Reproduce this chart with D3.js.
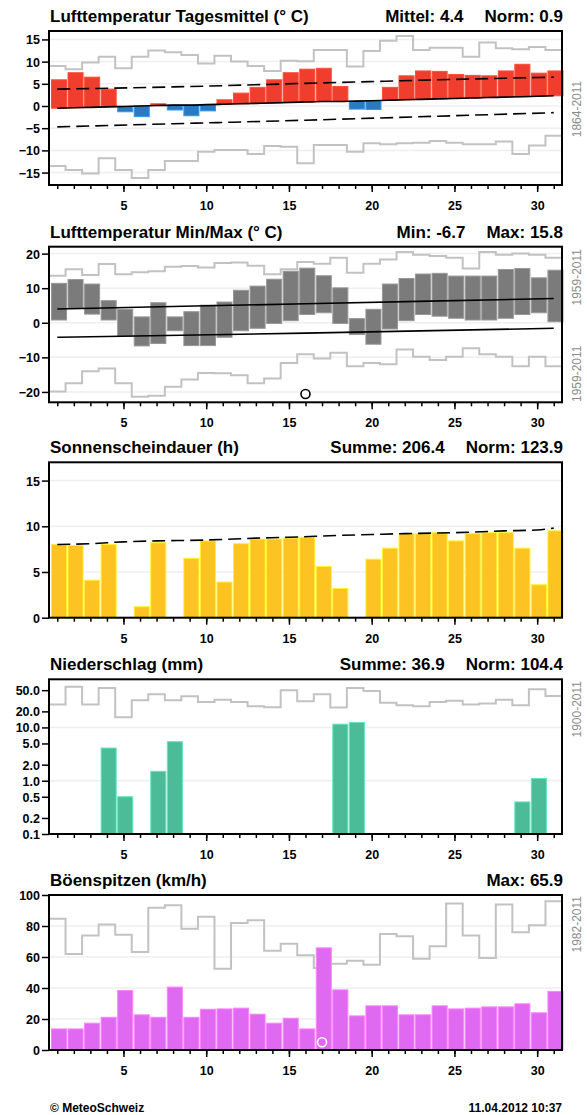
<!DOCTYPE html>
<html>
<head>
<meta charset="utf-8">
<script src="https://cdn.jsdelivr.net/npm/d3@7.9.0/dist/d3.min.js"></script>
<style>
  body { margin: 0; background: #fff; }
  svg { display: block; font-family: "Liberation Sans", Arial, sans-serif; }
  .title { font-weight: bold; font-size: 17px; }
  .tick text { font-family: "Liberation Sans", Arial, sans-serif; font-weight: bold; font-size: 12.5px; fill: #000; }
  .tick line { stroke: #000; stroke-width: 1.5; }
  .side { font-size: 12px; fill: #8c8c8c; }
  .foot { font-size: 12px; font-weight: bold; }
</style>
</head>
<body>
<svg id="chart" width="587" height="1115"></svg>
<script>
const days = [1,2,3,4,5,6,7,8,9,10,11,12,13,14,15,16,17,18,19,20,21,22,23,24,25,26,27,28,29,30,31];
const majorDays = [5, 10, 15, 20, 25, 30];

// Lufttemperatur Tagesmittel
const tMean = [5.9,7.5,6.5,3.8,-1.3,-2.4,0.5,-0.9,-2.2,-1.1,1.4,2.9,4.2,5.9,7.5,8.3,8.5,4.4,-0.7,-0.8,4.2,6.8,7.9,7.8,7.1,6.9,6.8,7.9,9.4,7.4,7.9];
const tMeanNorm = [-0.5,-0.4,-0.3,-0.2,-0.1,0.0,0.1,0.2,0.2,0.3,0.4,0.5,0.6,0.7,0.8,0.9,1.0,1.0,1.1,1.2,1.3,1.4,1.5,1.6,1.7,1.8,1.9,2.0,2.1,2.2,2.3];
const normDays = [1, 8, 16, 24, 31];
const tMeanHi = [3.8, 4.3, 5.1, 5.9, 6.5];
const tMeanLo = [-4.7, -4.0, -3.2, -2.3, -1.5];
const tMeanRecMax = [9.0,8.3,9.8,11.1,8.5,11.1,12.5,12.1,11.5,9.6,11.3,10.0,9.0,7.9,10.2,10.1,12.6,12.6,8.9,12.4,14.7,15.8,12.6,13.1,13.1,11.1,14.3,13.0,12.8,13.3,12.6];
const tMeanRecMin = [-13.5,-14.4,-15.2,-11.8,-14.4,-16.2,-14.4,-12.4,-12.4,-10.3,-9.9,-9.9,-10.8,-9.0,-9.2,-12.9,-8.8,-8.8,-10.3,-8.4,-8.6,-8.4,-8.3,-7.9,-8.3,-8.6,-8.6,-8.0,-10.8,-8.9,-6.7];

// Lufttemperatur Min/Max
const tMax = [11.4,12.5,11.2,6.4,3.9,1.7,5.8,1.7,3.2,5.1,6.0,9.4,10.6,12.6,14.9,15.8,13.6,10.1,1.2,3.9,11.2,12.8,14.1,14.3,13.5,13.5,13.5,15.4,15.7,13.0,15.2];
const tMin = [0.8,4.1,2.5,0.8,-3.9,-6.7,-6.0,-2.3,-6.6,-6.6,-4.2,-2.3,-1.6,-0.2,0.6,2.4,2.9,-0.2,-3.4,-6.2,-1.8,0.6,2.4,1.9,1.3,0.8,0.8,1.3,2.4,2.9,0.3];
const tMaxNorm = [4.0, 5.5, 7.0];
const tMinNorm = [-4.2, -3.0, -1.6];
const mmNormDays = [1, 16, 31];
const tMaxRec = [13.6,15.5,13.8,17.0,14.0,14.6,14.9,16.2,16.4,16.0,17.3,17.4,16.5,14.0,15.5,17.6,17.1,18.8,14.5,17.1,18.3,20.5,19.7,19.3,18.8,15.7,20.5,19.7,20.0,19.7,18.8];
const tMinRec = [-19.9,-17.5,-14.0,-13.2,-17.5,-21.4,-21.1,-18.5,-16.4,-14.5,-14.6,-15.2,-17.5,-16.1,-11.6,-9.1,-10.3,-8.7,-12.6,-11.6,-12.0,-7.7,-9.8,-10.8,-9.8,-7.4,-9.1,-9.8,-12.6,-9.8,-12.6];
const tMinMarker = [{ day: 16, value: -20.6 }];

// Sonnenscheindauer
const sun = [8.0,7.9,4.1,8.0,0,1.2,8.2,0,6.5,8.4,3.9,8.1,8.6,8.6,8.7,8.8,5.6,3.2,0,6.4,7.6,9.2,9.2,9.3,8.4,9.2,9.3,9.3,7.6,3.6,9.5];
const sunMaxDays = [1, 3, 5, 7, 10, 13, 15, 18, 20, 22, 25, 28, 30, 31];
const sunMax = [8.0, 8.1, 8.3, 8.4, 8.5, 8.7, 8.8, 9.0, 9.1, 9.2, 9.3, 9.5, 9.6, 9.8];

// Niederschlag
const precip = [0,0,0,4.1,0.5,0,1.5,5.4,0,0,0,0,0,0,0,0,0,11.5,12.4,0,0,0,0,0,0,0,0,0,0.4,1.1,0];
const precipRec = [27,58,27,55,15.5,32.5,42,32.5,38.5,30,33,30,25,24,50,31,42,23.7,55,48,29,26,25,30,31.5,27,28,33,26,52,39];

// Böenspitzen
const gust = [13.6,13.6,17.3,21.1,38.4,22.7,21.1,40.6,21.1,26.3,26.5,27.0,23.1,17.3,20.5,13.6,65.9,38.8,22.0,28.5,28.5,22.7,22.7,28.5,26.5,27.0,27.8,27.8,29.8,24.0,37.8];
const gustRec = [84.6,61.9,73.8,80.9,74.4,63.2,91.7,93.4,78.3,85.9,52.4,82.0,83.7,64.1,68.6,61.1,52.9,55.7,57.6,55.0,74.9,73.4,58.9,66.9,94.5,73.8,59.3,93.9,75.9,80.5,96.0];
const gustMarker = [{ day: 17, value: 5 }];

const svg = d3.select('#chart');
const x = d3.scaleLinear().domain([0.5, 31.5]).range([49, 562]);
const barW = x(1.41) - x(0.5);

const panels = [
  { top: 31, bottom: 185, title: 'Lufttemperatur Tagesmittel (° C)', stats: ['Mittel: 4.4', 'Norm: 0.9'],
    y: d3.scaleLinear().domain([-17.8, 16.9]).range([185, 31]), ticks: [-15,-10,-5,0,5,10,15], grid: [-15,-10,-5,0,5,10,15], fmt: d3.format('d') },
  { top: 246.7, bottom: 402.3, title: 'Lufttemperatur Min/Max (° C)', stats: ['Min: -6.7', 'Max: 15.8'],
    y: d3.scaleLinear().domain([-23, 22]).range([402.3, 246.7]), ticks: [-20,-10,0,10,20], grid: [-20,-10,0,10,20], fmt: d3.format('d') },
  { top: 462.3, bottom: 617.7, title: 'Sonnenscheindauer (h)', stats: ['Summe: 206.4', 'Norm: 123.9'],
    y: d3.scaleLinear().domain([0, 17]).range([617.7, 462.3]), ticks: [0,5,10,15], grid: [5,10,15], fmt: d3.format('d') },
  { top: 679.3, bottom: 834, title: 'Niederschlag (mm)', stats: ['Summe: 36.9', 'Norm: 104.4'],
    y: d3.scaleLog().domain([0.1, 80]).range([834, 679.3]), ticks: [0.1,0.2,0.5,1,2,5,10,20,50], grid: [1,10], fmt: d3.format('.1f') },
  { top: 895, bottom: 1050, title: 'Böenspitzen (km/h)', stats: ['Max: 65.9'],
    y: d3.scaleLinear().domain([0, 100]).range([1050, 895]), ticks: [0,20,40,60,80,100], grid: [20,40,60,80], fmt: d3.format('d') }
];

function grid(p) {
  svg.append('g').selectAll('line').data(p.grid).join('line')
    .attr('x1', 49).attr('x2', 562)
    .attr('y1', d => p.y(d)).attr('y2', d => p.y(d))
    .attr('stroke', '#efefef').attr('stroke-width', 1.5);
}

function stepLine(p, values) {
  const pts = days.map((d, i) => [d - 0.5, values[i]]).concat([[31.5, values[values.length - 1]]]);
  svg.append('path')
    .attr('d', d3.line().x(d => x(d[0])).y(d => p.y(d[1])).curve(d3.curveStepAfter)(pts))
    .attr('fill', 'none').attr('stroke', '#c2c2c2').attr('stroke-width', 2);
}

function normLine(p, xs, values, dashed) {
  svg.append('path')
    .attr('d', d3.line().x(d => x(d[0])).y(d => p.y(d[1])).curve(d3.curveMonotoneX)(xs.map((d, i) => [d, values[i]])))
    .attr('fill', 'none').attr('stroke', '#000').attr('stroke-width', 1.6)
    .attr('stroke-dasharray', dashed ? '13,6' : null);
}

function bars(p, lo, hi, color) {
  svg.append('g').selectAll('rect').data(days.map((d, i) => ({ d, a: lo[i], b: hi[i] })).filter(r => r.a !== r.b)).join('rect')
    .attr('x', r => x(r.d - 0.35))
    .attr('width', barW)
    .attr('y', r => Math.min(p.y(r.a), p.y(r.b)))
    .attr('height', r => Math.abs(p.y(r.a) - p.y(r.b)))
    .attr('fill', r => typeof color === 'function' ? color(r) : color)
    .attr('stroke', r => d3.color(typeof color === 'function' ? color(r) : color).brighter(0.6))
    .attr('stroke-width', 1);
}

function axes(p) {
  const ay = svg.append('g').attr('transform', 'translate(49,0)')
    .call(d3.axisLeft(p.y).tickValues(p.ticks).tickFormat(p.fmt).tickSize(7).tickPadding(2));
  ay.select('.domain').remove();
  ay.selectAll('.tick text').attr('dy', '0.36em');

  const minor = svg.append('g').attr('transform', `translate(0,${p.bottom})`)
    .call(d3.axisBottom(x).tickValues(days).tickSize(4).tickFormat(''));
  minor.select('.domain').remove();
  const major = svg.append('g').attr('transform', `translate(0,${p.bottom})`)
    .call(d3.axisBottom(x).tickValues(majorDays).tickSize(7).tickPadding(9).tickFormat(d3.format('d')));
  major.select('.domain').remove();

  svg.append('rect')
    .attr('x', 49).attr('y', p.top).attr('width', 513).attr('height', p.bottom - p.top)
    .attr('fill', 'none').attr('stroke', '#000').attr('stroke-width', 2);

  svg.append('text').attr('class', 'title').attr('x', 50).attr('y', p.top - 9).text(p.title);

  let right = 563;
  p.stats.slice().reverse().forEach(s => {
    const t = svg.append('text').attr('class', 'title').attr('text-anchor', 'end')
      .attr('x', right).attr('y', p.top - 9).text(s);
    right = t.node().getBBox().x - 21;
  });
}

function side(xPos, yPos, anchor, label) {
  svg.append('text').attr('class', 'side')
    .attr('transform', `translate(${xPos},${yPos}) rotate(-90)`)
    .attr('text-anchor', anchor).text(label);
}

// panel 1
let p = panels[0];
grid(p);
stepLine(p, tMeanRecMax);
stepLine(p, tMeanRecMin);
bars(p, tMeanNorm, tMean, r => r.b > r.a ? '#ef3e2d' : '#2b79bf');
normLine(p, days, tMeanNorm, false);
normLine(p, normDays, tMeanHi, true);
normLine(p, normDays, tMeanLo, true);
axes(p);
side(581, 109, 'middle', '1864-2011');

// panel 2
p = panels[1];
grid(p);
stepLine(p, tMaxRec);
stepLine(p, tMinRec);
bars(p, tMin, tMax, '#7b7b7b');
normLine(p, mmNormDays, tMaxNorm, false);
normLine(p, mmNormDays, tMinNorm, false);
svg.append('g').selectAll('circle').data(tMinMarker).join('circle')
  .attr('cx', d => x(d.day)).attr('cy', d => p.y(d.value)).attr('r', 4.5)
  .attr('fill', '#fff').attr('stroke', '#000').attr('stroke-width', 1.6);
axes(p);
side(581, 249, 'end', '1959-2011');
side(581, 402, 'start', '1959-2011');

// panel 3
p = panels[2];
grid(p);
bars(p, days.map(() => 0), sun, '#fdc322');
normLine(p, sunMaxDays, sunMax, true);
axes(p);

// panel 4
p = panels[3];
grid(p);
stepLine(p, precipRec);
bars(p, precip.map(v => v > 0 ? 0.1 : 0), precip, '#4cbb98');
axes(p);
side(581, 681, 'end', '1900-2011');

// panel 5
p = panels[4];
grid(p);
stepLine(p, gustRec);
bars(p, days.map(() => 0), gust, '#df69f1');
svg.append('g').selectAll('circle').data(gustMarker).join('circle')
  .attr('cx', d => x(d.day)).attr('cy', d => p.y(d.value)).attr('r', 4.5)
  .attr('fill', 'none').attr('stroke', '#fff').attr('stroke-width', 1.6);
axes(p);
side(581, 896, 'end', '1982-2011');

svg.append('text').attr('class', 'foot').attr('x', 50).attr('y', 1112).text('© MeteoSchweiz');
svg.append('text').attr('class', 'foot').attr('x', 562).attr('y', 1112).attr('text-anchor', 'end').text('11.04.2012 10:37');
</script>
</body>
</html>
